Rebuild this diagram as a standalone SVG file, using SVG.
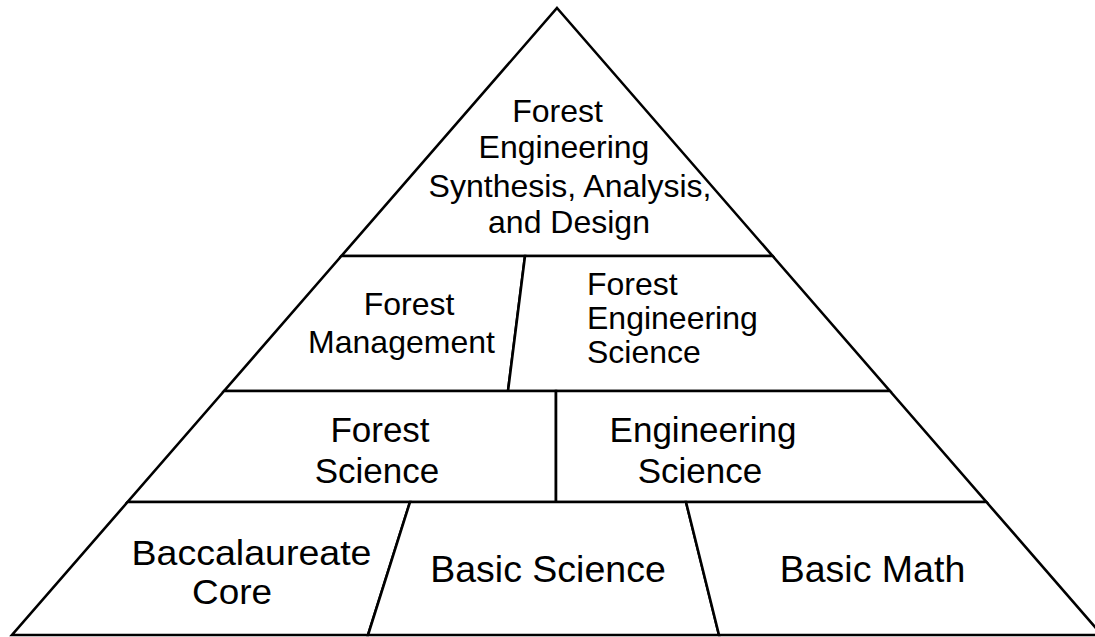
<svg xmlns="http://www.w3.org/2000/svg" width="1095" height="637" viewBox="0 0 1095 637">
  <style>
    .region { fill: #ffffff; stroke: #000000; stroke-width: 2.6; stroke-linejoin: miter; }
    .lbl { font-family: "Liberation Sans", Arial, Helvetica, sans-serif; fill: #000000; text-anchor: middle; }
    .s32 { font-size: 32px; }
    .s35 { font-size: 35px; }
    .s37 { font-size: 37.5px; }
    .s34 { font-size: 34.5px; }
    .left { text-anchor: start; }
  </style>
  <rect x="0" y="0" width="1095" height="637" fill="#ffffff"/>
  <g id="connectors"></g>
  <g id="node-top">
    <polygon class="region" points="557,8 772.6,256 341.4,256"/>
    <text class="lbl s32" x="557.5" y="122">Forest</text>
    <text class="lbl s32" x="564" y="158">Engineering</text>
    <text class="lbl s32" x="570" y="197">Synthesis, Analysis,</text>
    <text class="lbl s32" x="569" y="233">and Design</text>
  </g>
  <g id="node-forest-management">
    <polygon class="region" points="341.4,256 525,256 508,391 224.1,391"/>
    <text class="lbl s32" x="409" y="315">Forest</text>
    <text class="lbl s32" x="401.5" y="353">Management</text>
  </g>
  <g id="node-forest-engineering-science">
    <polygon class="region" points="525,256 772.6,256 889.9,391 508,391"/>
    <text class="lbl s32 left" x="587" y="295">Forest</text>
    <text class="lbl s32 left" x="587" y="329">Engineering</text>
    <text class="lbl s32 left" x="587" y="363">Science</text>
  </g>
  <g id="node-forest-science">
    <polygon class="region" points="224.1,391 556,391 556,502 127.6,502"/>
    <text class="lbl s35" x="380" y="442">Forest</text>
    <text class="lbl s35" x="377" y="483">Science</text>
  </g>
  <g id="node-engineering-science">
    <polygon class="region" points="556,391 889.9,391 986.4,502 556,502"/>
    <text class="lbl s35" x="703" y="442">Engineering</text>
    <text class="lbl s35" x="700" y="483">Science</text>
  </g>
  <g id="node-baccalaureate-core">
    <polygon class="region" points="127.6,502 410,502 368,635 12,635"/>
    <text class="lbl s34" x="251.5" y="565" textLength="240" lengthAdjust="spacingAndGlyphs">Baccalaureate</text>
    <text class="lbl s34" x="232" y="604" textLength="80" lengthAdjust="spacingAndGlyphs">Core</text>
  </g>
  <g id="node-basic-science">
    <polygon class="region" points="410,502 686,502 719,635 368,635"/>
    <text class="lbl s37" x="548" y="582">Basic Science</text>
  </g>
  <g id="node-basic-math">
    <polygon class="region" points="686,502 986.4,502 1102,635 719,635"/>
    <text class="lbl s37" x="872.5" y="582">Basic Math</text>
  </g>
</svg>
